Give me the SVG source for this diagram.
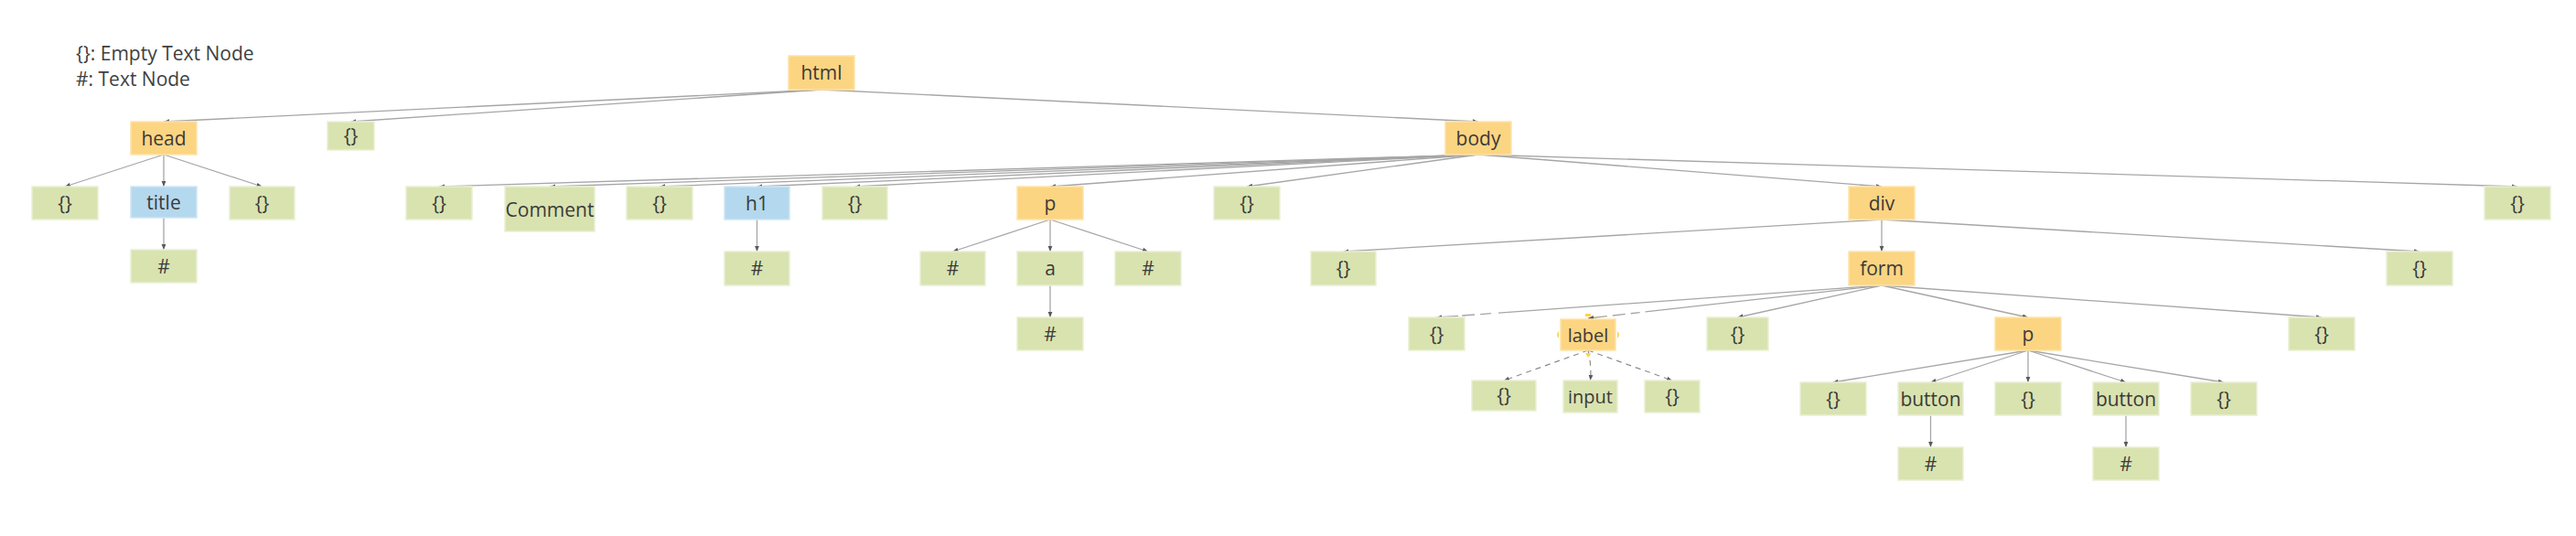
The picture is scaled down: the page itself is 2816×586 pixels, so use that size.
<svg xmlns="http://www.w3.org/2000/svg" width="2816" height="586" viewBox="0 0 2816 586">
<defs>
<marker id="arr" viewBox="0 0 10 10" refX="10" refY="5" markerWidth="6" markerHeight="6" markerUnits="userSpaceOnUse" orient="auto"><path d="M0,1 L10,5 L0,9 z" fill="#595959"/></marker>
<style>
.e{fill:none;stroke:#a6a6a6;stroke-width:1.3;marker-end:url(#arr)}
.d{fill:none;stroke:#8c8c8c;stroke-width:1.2;stroke-dasharray:6 5;marker-end:url(#arr)}
.g{fill:#d9e3b0;stroke:#e9efd3;stroke-width:1.5}
.o{fill:#fcd582;stroke:#fde3aa;stroke-width:1.5}
.b{fill:#b4d8ee;stroke:#cfe6f4;stroke-width:1.5}
text{font-family:"Open Sans","Noto Sans","Liberation Sans",sans-serif;font-size:21px;fill:#3a3a3a;text-anchor:middle}
.leg{font-size:21px;text-anchor:start;fill:#404040}
.h{fill:#fcd34d}
</style>
</defs>
<rect width="2816" height="586" fill="#ffffff"/>
<g id="legend">
<text class="leg" x="83" y="66">{}: Empty Text Node</text>
<text class="leg" x="83" y="94">#: Text Node</text>
</g>
<g id="connectors">
<path class="e" d="M898,98 L179,133"/>
<path class="e" d="M898,98 L383.5,133"/>
<path class="e" d="M898,98 L1616,133"/>
<path class="e" d="M179,169 L71,204"/>
<path class="e" d="M179,169 L179,204"/>
<path class="e" d="M179,169 L286.5,204"/>
<path class="e" d="M179,238 L179,273"/>
<path class="e" d="M1616,169 L480,204"/>
<path class="e" d="M1616,169 L601,204"/>
<path class="e" d="M1616,169 L721,204"/>
<path class="e" d="M1616,169 L827.5,204"/>
<path class="e" d="M1616,169 L934.5,204"/>
<path class="e" d="M1616,169 L1148,204"/>
<path class="e" d="M1616,169 L1363,204"/>
<path class="e" d="M1616,169 L2057,204"/>
<path class="e" d="M1616,169 L2752,204"/>
<path class="e" d="M827.5,240 L827.5,275"/>
<path class="e" d="M1148,240 L1041.5,275"/>
<path class="e" d="M1148,240 L1148,275"/>
<path class="e" d="M1148,240 L1255,275"/>
<path class="e" d="M1148,312 L1148,347"/>
<path class="e" d="M2057,240 L1468.5,275"/>
<path class="e" d="M2057,240 L2057,275"/>
<path class="e" d="M2057,240 L2645,275"/>
<path class="e" d="M2057,312 L1570.5,347" stroke-dasharray="420 8 12 6 14 4 200"/>
<path class="e" d="M2057,312 L1736,348" stroke-dasharray="260 6 10 6 14 6 200"/>
<path class="e" d="M2057,312 L1899.5,347"/>
<path class="e" d="M2057,312 L2217,347"/>
<path class="e" d="M2057,312 L2538,347"/>
<path class="d" d="M1736,383 L1644,416"/>
<path class="d" d="M1736,383 Q1740,400 1738.5,416"/>
<path class="d" d="M1736,383 L1828,416"/>
<path class="e" d="M2217,383 L2003.5,418"/>
<path class="e" d="M2217,383 L2110.5,418"/>
<path class="e" d="M2217,383 L2217,418"/>
<path class="e" d="M2217,383 L2324,418"/>
<path class="e" d="M2217,383 L2431,418"/>
<path class="e" d="M2110.5,454 L2110.5,489"/>
<path class="e" d="M2324,454 L2324,489"/>
</g>
<g id="n-html"><rect class="o" x="862" y="61" width="72" height="37"/><text x="898" y="87">html</text></g>
<g id="n-head"><rect class="o" x="143" y="133" width="72" height="36"/><text x="179" y="159">head</text></g>
<g id="n-e1"><rect class="g" x="358" y="133" width="51" height="31"/><text x="383.5" y="156">{}</text></g>
<g id="n-body"><rect class="o" x="1580" y="133" width="72" height="36"/><text x="1616" y="159">body</text></g>
<g id="n-e2"><rect class="g" x="35" y="204" width="72" height="36"/><text x="71" y="230">{}</text></g>
<g id="n-title"><rect class="b" x="143" y="204" width="72" height="34"/><text x="179" y="229">title</text></g>
<g id="n-e3"><rect class="g" x="251" y="204" width="71" height="36"/><text x="286.5" y="230">{}</text></g>
<g id="n-t1"><rect class="g" x="143" y="273" width="72" height="36"/><text x="179" y="299">#</text></g>
<g id="n-e4"><rect class="g" x="444" y="204" width="72" height="36"/><text x="480" y="230">{}</text></g>
<g id="n-comment"><rect class="g" x="552" y="204" width="98" height="49"/><text x="601" y="237">Comment</text></g>
<g id="n-e5"><rect class="g" x="685" y="204" width="72" height="36"/><text x="721" y="230">{}</text></g>
<g id="n-h1"><rect class="b" x="792" y="204" width="71" height="36"/><text x="827.5" y="230">h1</text></g>
<g id="n-t2"><rect class="g" x="792" y="275" width="71" height="37"/><text x="827.5" y="301">#</text></g>
<g id="n-e6"><rect class="g" x="899" y="204" width="71" height="36"/><text x="934.5" y="230">{}</text></g>
<g id="n-p1"><rect class="o" x="1112" y="204" width="72" height="36"/><text x="1148" y="230">p</text></g>
<g id="n-t3"><rect class="g" x="1006" y="275" width="71" height="37"/><text x="1041.5" y="301">#</text></g>
<g id="n-a"><rect class="g" x="1112" y="275" width="72" height="37"/><text x="1148" y="301">a</text></g>
<g id="n-t4"><rect class="g" x="1219" y="275" width="72" height="37"/><text x="1255" y="301">#</text></g>
<g id="n-t5"><rect class="g" x="1112" y="347" width="72" height="36"/><text x="1148" y="373">#</text></g>
<g id="n-e7"><rect class="g" x="1327" y="204" width="72" height="36"/><text x="1363" y="230">{}</text></g>
<g id="n-div"><rect class="o" x="2021" y="204" width="72" height="36"/><text x="2057" y="230">div</text></g>
<g id="n-e8"><rect class="g" x="2716" y="204" width="72" height="36"/><text x="2752" y="230">{}</text></g>
<g id="n-e9"><rect class="g" x="1433" y="275" width="71" height="37"/><text x="1468.5" y="301">{}</text></g>
<g id="n-form"><rect class="o" x="2021" y="275" width="72" height="37"/><text x="2057" y="301">form</text></g>
<g id="n-e10"><rect class="g" x="2609" y="275" width="72" height="37"/><text x="2645" y="301">{}</text></g>
<g id="n-e11"><rect class="g" x="1540" y="347" width="61" height="36"/><text x="1570.5" y="373">{}</text></g>
<g id="n-label"><rect class="o" x="1706" y="349" width="60" height="34"/><text x="1736" y="374" style="font-size:20px">label</text>
<rect class="h" x="1733" y="343" width="6" height="3"/><path class="h" d="M1704,362 Q1700,366 1704,370 z"/><path class="h" d="M1768,362 Q1772,366 1768,370 z"/><path class="h" d="M1733,386 L1739,386 L1736,391 z"/></g>
<g id="n-e12"><rect class="g" x="1866" y="347" width="67" height="36"/><text x="1899.5" y="373">{}</text></g>
<g id="n-p2"><rect class="o" x="2181" y="347" width="72" height="36"/><text x="2217" y="373">p</text></g>
<g id="n-e13"><rect class="g" x="2502" y="347" width="72" height="36"/><text x="2538" y="373">{}</text></g>
<g id="n-e14"><rect class="g" x="1609" y="416" width="70" height="33"/><text x="1644" y="440">{}</text></g>
<g id="n-input"><rect class="g" x="1709" y="416" width="59" height="35"/><text x="1738.5" y="441" style="font-size:20px">input</text></g>
<g id="n-e15"><rect class="g" x="1798" y="416" width="60" height="35"/><text x="1828" y="441">{}</text></g>
<g id="n-e16"><rect class="g" x="1968" y="418" width="72" height="36"/><text x="2004" y="444">{}</text></g>
<g id="n-btn1"><rect class="g" x="2075" y="418" width="71" height="36"/><text x="2110.5" y="444">button</text></g>
<g id="n-e17"><rect class="g" x="2181" y="418" width="72" height="36"/><text x="2217" y="444">{}</text></g>
<g id="n-btn2"><rect class="g" x="2288" y="418" width="72" height="36"/><text x="2324" y="444">button</text></g>
<g id="n-e18"><rect class="g" x="2395" y="418" width="72" height="36"/><text x="2431" y="444">{}</text></g>
<g id="n-t6"><rect class="g" x="2075" y="489" width="71" height="36"/><text x="2110.5" y="515">#</text></g>
<g id="n-t7"><rect class="g" x="2288" y="489" width="72" height="36"/><text x="2324" y="515">#</text></g>
</svg>
